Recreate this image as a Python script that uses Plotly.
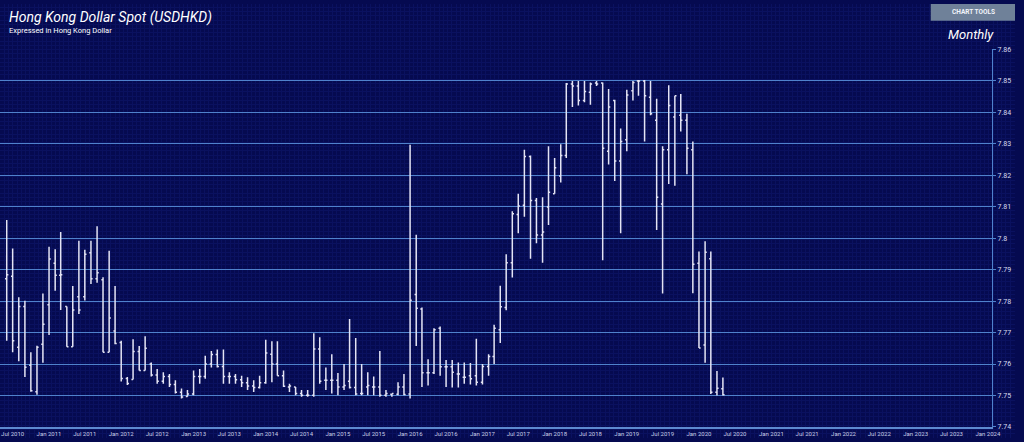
import plotly.graph_objects as go
import pandas as pd

# ---- data (monthly OHLC, USDHKD) ----
months = pd.date_range("2010-06-01", periods=120, freq="MS")

open_ = [7.7871, 7.7879, 7.7653, 7.7783, 7.7596, 7.7512, 7.7663, 7.7788, 7.7920, 7.7882,
         7.7783, 7.7655, 7.7814, 7.7814, 7.7954, 7.7871, 7.7868, 7.7637, 7.7705, 7.7668,
         7.7554, 7.7551, 7.7640, 7.7579, 7.7600, 7.7565, 7.7545, 7.7560, 7.7535, 7.7510,
         7.7497, 7.7505, 7.7560, 7.7560, 7.7600, 7.7630, 7.7592, 7.7560, 7.7560, 7.7550,
         7.7540, 7.7530, 7.7525, 7.7540, 7.7631, 7.7600, 7.7563, 7.7527, 7.7527, 7.7506,
         7.7501, 7.7501, 7.7648, 7.7548, 7.7548, 7.7548, 7.7527, 7.7545, 7.7525, 7.7506,
         7.7527, 7.7527, 7.7527, 7.7501, 7.7504, 7.7504, 7.7527, 7.7505, 7.7821, 7.7775,
         7.7572, 7.7572, 7.7714, 7.7591, 7.7591, 7.7568, 7.7558, 7.7563, 7.7563, 7.7542,
         7.7592, 7.7624, 7.7709, 7.7780, 7.7922, 7.8075, 7.8105, 7.8260, 7.8120, 7.8010,
         7.8099, 7.8141, 7.8198, 7.8263, 7.8490, 7.8484, 7.8438, 7.8464, 7.8493, 7.8493,
         7.8276, 7.8438, 7.8245, 7.8313, 7.8469, 7.8500, 7.8500, 7.8448, 7.8375, 7.8109,
         7.8281, 7.8385, 7.8391, 7.8375, 7.8281, 7.7920, 7.7660, 7.7935, 7.7510, 7.7521]

high = [7.8058, 7.7967, 7.7812, 7.7801, 7.7637, 7.7658, 7.7824, 7.7973, 7.7965, 7.8020,
        7.7783, 7.7848, 7.7992, 7.7963, 7.7992, 7.8038, 7.7876, 7.7960, 7.7848, 7.7674,
        7.7559, 7.7679, 7.7657, 7.7688, 7.7605, 7.7584, 7.7574, 7.7568, 7.7548, 7.7522,
        7.7517, 7.7579, 7.7584, 7.7626, 7.7641, 7.7646, 7.7646, 7.7574, 7.7568, 7.7563,
        7.7558, 7.7548, 7.7563, 7.7677, 7.7672, 7.7672, 7.7579, 7.7537, 7.7527, 7.7517,
        7.7517, 7.7698, 7.7685, 7.7589, 7.7631, 7.7571, 7.7600, 7.7743, 7.7683, 7.7600,
        7.7574, 7.7560, 7.7641, 7.7517, 7.7506, 7.7542, 7.7568, 7.8297, 7.8011, 7.7780,
        7.7615, 7.7714, 7.7719, 7.7613, 7.7613, 7.7605, 7.7605, 7.7603, 7.7680, 7.7600,
        7.7631, 7.7725, 7.7849, 7.7949, 7.8086, 7.8141, 7.8281, 7.8263, 7.8128, 7.8130,
        7.8292, 7.8255, 7.8299, 7.8493, 7.8500, 7.8500, 7.8500, 7.8495, 7.8500, 7.8495,
        7.8474, 7.8440, 7.8349, 7.8472, 7.8500, 7.8503, 7.8503, 7.8500, 7.8443, 7.8292,
        7.8486, 7.8453, 7.8458, 7.8396, 7.8307, 7.7958, 7.7990, 7.7958, 7.7578, 7.7557]

low = [7.7674, 7.7637, 7.7609, 7.7559, 7.7512, 7.7502, 7.7604, 7.7692, 7.7833, 7.7772,
       7.7655, 7.7655, 7.7759, 7.7802, 7.7854, 7.7858, 7.7637, 7.7637, 7.7663, 7.7544,
       7.7533, 7.7551, 7.7579, 7.7579, 7.7560, 7.7537, 7.7537, 7.7527, 7.7506, 7.7490,
       7.7496, 7.7501, 7.7537, 7.7553, 7.7589, 7.7589, 7.7537, 7.7537, 7.7537, 7.7527,
       7.7517, 7.7511, 7.7522, 7.7537, 7.7542, 7.7563, 7.7527, 7.7511, 7.7501, 7.7496,
       7.7496, 7.7496, 7.7537, 7.7517, 7.7506, 7.7501, 7.7517, 7.7522, 7.7501, 7.7501,
       7.7501, 7.7501, 7.7496, 7.7496, 7.7496, 7.7501, 7.7501, 7.7490, 7.7657, 7.7527,
       7.7532, 7.7568, 7.7563, 7.7527, 7.7525, 7.7525, 7.7537, 7.7535, 7.7532, 7.7535,
       7.7563, 7.7600, 7.7667, 7.7771, 7.7875, 7.8016, 7.8068, 7.7935, 7.7984, 7.7922,
       7.8042, 7.8141, 7.8177, 7.8255, 7.8417, 7.8422, 7.8432, 7.8424, 7.8484, 7.7930,
       7.8234, 7.8182, 7.8016, 7.8276, 7.8438, 7.8453, 7.8307, 7.8391, 7.8026, 7.7824,
       7.8172, 7.8167, 7.8339, 7.8203, 7.7825, 7.7651, 7.7604, 7.7505, 7.7500, 7.7500]

close = [7.7884, 7.7674, 7.7783, 7.7590, 7.7515, 7.7653, 7.7726, 7.7934, 7.7882, 7.7884,
         7.7655, 7.7772, 7.7772, 7.7949, 7.7871, 7.7890, 7.7637, 7.7746, 7.7665, 7.7554,
         7.7538, 7.7640, 7.7579, 7.7650, 7.7565, 7.7545, 7.7560, 7.7535, 7.7510, 7.7495,
         7.7505, 7.7560, 7.7560, 7.7600, 7.7630, 7.7592, 7.7560, 7.7560, 7.7550, 7.7540,
         7.7530, 7.7525, 7.7540, 7.7635, 7.7600, 7.7563, 7.7529, 7.7530, 7.7506, 7.7501,
         7.7501, 7.7648, 7.7545, 7.7548, 7.7548, 7.7527, 7.7532, 7.7525, 7.7505, 7.7506,
         7.7532, 7.7527, 7.7501, 7.7506, 7.7506, 7.7527, 7.7503, 7.7803, 7.7777, 7.7572,
         7.7572, 7.7709, 7.7591, 7.7591, 7.7574, 7.7568, 7.7558, 7.7553, 7.7542, 7.7592,
         7.7624, 7.7714, 7.7782, 7.7922, 7.8078, 7.8102, 7.8260, 7.8120, 7.8010, 7.8020,
         7.8146, 7.8224, 7.8263, 7.8490, 7.8484, 7.8438, 7.8466, 7.8490, 7.8490, 7.8286,
         7.8417, 7.8245, 7.8307, 7.8455, 7.8495, 7.8500, 7.8453, 7.8396, 7.8130, 7.8281,
         7.8422, 7.8453, 7.8375, 7.8286, 7.7917, 7.7651, 7.7955, 7.7510, 7.7523, 7.7502]

y_tick_vals = [7.74, 7.75, 7.76, 7.77, 7.78, 7.79, 7.80, 7.81, 7.82, 7.83, 7.84, 7.85, 7.86]
y_tick_text = ["7.74", "7.75", "7.76", "7.77", "7.78", "7.79", "7.8", "7.81", "7.82",
               "7.83", "7.84", "7.85", "7.86"]

x_tick_vals = ["2010-07-01", "2011-01-01", "2011-07-01", "2012-01-01", "2012-07-01",
               "2013-01-01", "2013-07-01", "2014-01-01", "2014-07-01", "2015-01-01",
               "2015-07-01", "2016-01-01", "2016-07-01", "2017-01-01", "2017-07-01",
               "2018-01-01", "2018-07-01", "2019-01-01", "2019-07-01", "2020-01-01",
               "2020-07-01", "2021-01-01", "2021-07-01", "2022-01-01", "2022-07-01",
               "2023-01-01", "2023-07-01", "2024-01-01"]
x_tick_text = ["Jul 2010", "Jan 2011", "Jul 2011", "Jan 2012", "Jul 2012", "Jan 2013",
               "Jul 2013", "Jan 2014", "Jul 2014", "Jan 2015", "Jul 2015", "Jan 2016",
               "Jul 2016", "Jan 2017", "Jul 2017", "Jan 2018", "Jul 2018", "Jan 2019",
               "Jul 2019", "Jan 2020", "Jul 2020", "Jan 2021", "Jul 2021", "Jan 2022",
               "Jul 2022", "Jan 2023", "Jul 2023", "Jan 2024"]

# ---- styling ----
W, H = 1024, 442
BG = "#050a50"
FINE = "#0a115f"
GRID = "#4f82cc"
BAR = "#e4e4f4"
FONT = "Roboto"

fig = go.Figure()

# background fine-grid subplot covering whole paper (drawn first, below)
fig.add_trace(go.Scatter(x=[0], y=[0], mode="markers", marker=dict(opacity=0),
                         hoverinfo="skip", showlegend=False, xaxis="x", yaxis="y"))

fig.add_trace(go.Ohlc(
    x=months, open=open_, high=high, low=low, close=close,
    increasing=dict(line=dict(color=BAR, width=1.5)),
    decreasing=dict(line=dict(color=BAR, width=1.5)),
    tickwidth=0.3, hoverinfo="skip", showlegend=False,
    xaxis="x2", yaxis="y2"))

px_x = lambda p: p / W
px_y = lambda p: 1 - p / H

fig.update_layout(
    width=W, height=H, autosize=False,
    margin=dict(l=0, r=0, t=0, b=0),
    paper_bgcolor=BG, plot_bgcolor="rgba(0,0,0,0)",
    font=dict(family=FONT, color="#e8e8f0"),
    showlegend=False,
    xaxis=dict(domain=[0, 1], range=[0, W], dtick=4.3, showgrid=True, gridcolor=FINE,
               gridwidth=1, showticklabels=False, zeroline=False, showline=False,
               fixedrange=True, ticks=""),
    yaxis=dict(domain=[0, 1], range=[0, H], dtick=4.3, showgrid=True, gridcolor=FINE,
               gridwidth=1, showticklabels=False, zeroline=False, showline=False,
               fixedrange=True, ticks=""),
    xaxis2=dict(domain=[0, px_x(1001)], anchor="y2", type="date",
                range=["2010-04-28", "2024-01-23"],
                tickvals=x_tick_vals, ticktext=x_tick_text, showgrid=False,
                showline=True, linecolor="#5d8ad0", linewidth=2, ticks="",
                tickfont=dict(size=6, color="#c8cde6", family=FONT),
                rangeslider=dict(visible=False), zeroline=False),
    yaxis2=dict(domain=[px_y(430.7), px_y(46.3)], anchor="x2", side="right",
                range=[7.74, 7.86], tickvals=y_tick_vals, ticktext=y_tick_text,
                showgrid=True, gridcolor=GRID, gridwidth=1, showline=True,
                linecolor=GRID, linewidth=1, ticks="outside", ticklen=3,
                tickcolor=GRID, tickfont=dict(size=7, color="#d8dcee", family=FONT),
                zeroline=False),
)

# chart tools button
fig.add_shape(type="rect", xref="paper", yref="paper",
              x0=px_x(939), x1=1, y0=px_y(17), y1=1,
              fillcolor="#6f8199", line=dict(width=0), layer="above")

annos = [
    dict(text="Hong Kong Dollar Spot (USDHKD)", x=px_x(7), y=px_y(14), xanchor="left",
         yanchor="middle", font=dict(size=14, family=FONT, color="#ffffff", style="italic")),
    dict(text="Expressed in Hong Kong Dollar", x=px_x(7), y=px_y(27), xanchor="left",
         yanchor="middle", font=dict(size=7.5, family=FONT, color="#ffffff")),
    dict(text="Monthly", x=px_x(1005), y=px_y(31), xanchor="right", yanchor="middle",
         font=dict(size=13, family=FONT, color="#ffffff", style="italic")),
    dict(text="<b>CHART TOOLS</b>", x=px_x(982), y=px_y(8), xanchor="center",
         yanchor="middle", font=dict(size=6.5, family=FONT, color="#f2f4fa")),
]
for a in annos:
    fig.add_annotation(xref="paper", yref="paper", showarrow=False, **a)

fig.write_html(
    "out.html",
    config={"displayModeBar": False, "responsive": False},
    post_script="document.body.style.margin='0px';document.body.style.overflow='hidden';",
)
